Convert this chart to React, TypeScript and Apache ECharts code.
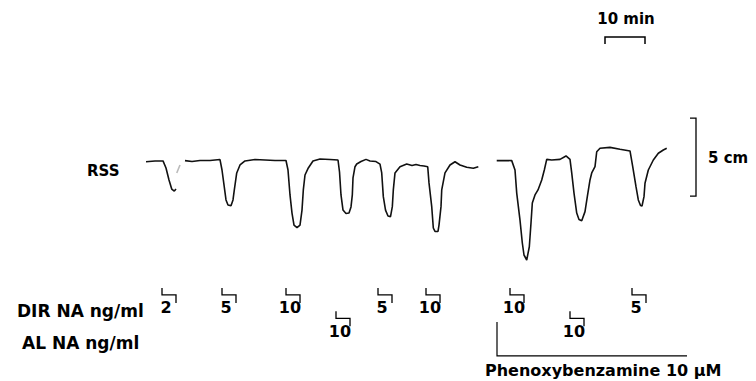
import React, { useEffect, useRef } from "react";
import * as echarts from "echarts";

// Time in minutes (from start of trace), tension deflection in cm (0 = resting baseline)
const TRACE_1: [number, number][] = [
  [0, -0.11], [2.25, -0.06], [4.25, -0.06], [5, -0.51], [5.75, -1.28], [6.43, -1.86], [7.08, -1.99], [7.5, -1.86],
];
const TRACE_1_FAINT: [number, number][] = [
  [7.68, -0.83], [8.5, -0.32],
];
const TRACE_2: [number, number][] = [
  [9.75, -0.04], [11.5, -0.1], [13.5, -0.03], [16, -0.03], [18.5, 0.03], [19, -0.64], [19.5, -1.6], [20, -2.56],
  [20.5, -2.88], [21.25, -2.93], [21.75, -2.56], [22.08, -1.92], [22.68, -0.83], [23.5, -0.32], [24.75, -0.06],
  [27.25, 0.03], [29.75, 0], [32.25, -0.03], [35, -0.03], [35.5, -0.64], [36, -2.24], [36.5, -3.4], [37, -4.17],
  [37.75, -4.33], [38.5, -4.17], [39, -3.21], [39.33, -1.92], [39.75, -0.96], [40.58, -0.51], [41.75, -0.06],
  [43.5, 0.06], [46, 0.03], [48, 0], [48.38, -0.77], [48.75, -2.24], [49.25, -3.21], [50, -3.43], [50.75, -3.4],
  [51.25, -3.01], [51.58, -2.24], [51.75, -1.15], [52.25, -0.43], [52.68, -0.26], [53.75, -0.1], [55, 0.04],
  [56, -0.06], [57.5, -0.1], [58.5, -0.26], [58.93, -0.83], [59.33, -2.35], [59.88, -3.21], [60.5, -3.59],
  [61.13, -3.63], [61.58, -2.99], [61.83, -1.92], [62.25, -0.83], [63.5, -0.43], [65.18, -0.26], [66.5, -0.35],
  [67.5, -0.29], [68.5, -0.35], [69.5, -0.38], [70.43, -0.43], [70.75, -1.47], [71.43, -2.99], [71.83, -4.36],
  [72.25, -4.58], [73, -4.58], [73.25, -4.17], [73.75, -2.99], [73.93, -1.92], [74.75, -0.83], [76, -0.32],
  [77.25, -0.11], [78.5, -0.32], [80.18, -0.47], [81.83, -0.53], [83.08, -0.43],
];
const TRACE_3: [number, number][] = [
  [87.68, -0.04], [89.75, -0.03], [91.43, -0.04], [92.25, -0.64], [92.68, -2.12], [93.5, -3.85], [94.08, -5.32],
  [94.5, -6.09], [95.18, -6.41], [95.83, -5.56], [96.25, -4.04], [96.58, -2.76], [97.25, -2.24], [98, -1.92],
  [98.93, -1.28], [99.58, -0.64], [100.18, 0.04], [101.43, 0], [103.5, 0.04], [105, 0.26], [106, 0.04],
  [106.43, -0.83], [107, -2.12], [107.68, -3.4], [108.25, -3.81], [108.93, -3.89], [109.75, -3.31], [110.33, -2.35],
  [111, -1.28], [111.43, -0.83], [112.25, -0.43], [112.68, 0.53], [113.5, 0.75], [116, 0.81], [118.5, 0.69],
  [121, 0.58], [121.68, -0.43], [122.5, -1.71], [123.08, -2.56], [123.63, -2.92], [124, -2.95], [124.5, -2.35],
  [124.75, -1.49], [125.58, -0.64], [126.83, 0], [128.08, 0.43], [129.33, 0.64], [130.18, 0.75],
];

// Drug applications: [start min, end min, dose ng/ml]
const DIR_NA: [number, number, number][] = [
  [4, 7.5, 2], [19, 22.5, 5], [35, 38.5, 10], [58, 61.5, 5], [70, 73.5, 10], [91, 94.5, 10], [121.5, 125, 5],
];
const AL_NA: [number, number, number][] = [
  [47.5, 51, 10], [106, 109.5, 10],
];
const PHENOXY: [number, number] = [87.75, 135.25];
const PHENOXY_LABEL = "Phenoxybenzamine 10 µM";

// Calibration bars
const TIME_BAR: [number, number, number] = [114.75, 124.75, 7.88]; // 10 min
const CM_BAR: [number, number, number] = [137.5, 2.69, -2.31]; // 5 cm

const ROW_Y = [-8.2, -9.7];
const PHENOXY_Y = [-10.38, -12.56];

const FONT = '"DejaVu Sans", sans-serif';

export default function App() {
  const ref = useRef<HTMLDivElement>(null);
  useEffect(() => {
    if (!ref.current) return;
    const chart = echarts.init(ref.current, null, { renderer: "svg" });
    const markerData = [
      ...DIR_NA.map((d) => [d[0], d[1], ROW_Y[0], d[2]]),
      ...AL_NA.map((d) => [d[0], d[1], ROW_Y[1], d[2]]),
    ];
    const traceSeries = (data: [number, number][], color = "#111") => ({
      type: "line",
      data,
      symbol: "none",
      silent: true,
      lineStyle: { color, width: 1.6 },
      z: 3,
    });
    chart.setOption({
      animation: false,
      backgroundColor: "#fff",
      grid: { left: 0, top: 4, width: 756, height: 374.4 },
      xAxis: { type: "value", min: -36.5, max: 152.5, show: false },
      yAxis: { type: "value", min: -14, max: 10, show: false },
      graphic: [
        { type: "text", x: 87, y: 171, style: { text: "RSS", font: `bold 15px ${FONT}`, fill: "#000", verticalAlign: "middle" } },
        { type: "text", x: 17, y: 311, style: { text: "DIR NA ng/ml", font: `bold 17px ${FONT}`, fill: "#000", verticalAlign: "middle" } },
        { type: "text", x: 22, y: 343, style: { text: "AL NA ng/ml", font: `bold 17px ${FONT}`, fill: "#000", verticalAlign: "middle" } },
      ],
      series: [
        traceSeries(TRACE_1),
        traceSeries(TRACE_1_FAINT, "#bbb"),
        traceSeries(TRACE_2),
        traceSeries(TRACE_3),
        {
          type: "custom",
          clip: false,
          silent: true,
          data: markerData,
          encode: { x: [0, 1], y: 2 },
          renderItem: (params: any, api: any) => {
            const s = api.coord([api.value(0), api.value(2)]);
            const e = api.coord([api.value(1), api.value(2)]);
            const L = s[0], R = e[0], T = s[1];
            return {
              type: "group",
              children: [
                { type: "polyline", shape: { points: [[L, T], [L, T + 7], [R, T + 7], [R, T + 15]] }, style: { stroke: "#000", lineWidth: 1.3, fill: null } },
                { type: "text", style: { text: String(api.value(3)), x: (L + R) / 2 - 3, y: T + 20, align: "center", verticalAlign: "middle", font: `bold 16px ${FONT}`, fill: "#000" } },
              ],
            };
          },
        },
        {
          type: "custom",
          clip: false,
          silent: true,
          data: [[PHENOXY[0], PHENOXY[1], PHENOXY_Y[0], PHENOXY_Y[1]]],
          encode: { x: [0, 1], y: [2, 3] },
          renderItem: (params: any, api: any) => {
            const a = api.coord([api.value(0), api.value(2)]);
            const b = api.coord([api.value(1), api.value(3)]);
            return {
              type: "group",
              children: [
                { type: "polyline", shape: { points: [[a[0], a[1]], [a[0], b[1]], [b[0], b[1]]] }, style: { stroke: "#000", lineWidth: 1.2, fill: null } },
                { type: "text", style: { text: PHENOXY_LABEL, x: a[0] - 12, y: b[1] + 15, align: "left", verticalAlign: "middle", font: `bold 16px ${FONT}`, fill: "#000" } },
              ],
            };
          },
        },
        {
          type: "custom",
          clip: false,
          silent: true,
          data: [TIME_BAR],
          encode: { x: [0, 1], y: 2 },
          renderItem: (params: any, api: any) => {
            const a = api.coord([api.value(0), api.value(2)]);
            const b = api.coord([api.value(1), api.value(2)]);
            return {
              type: "group",
              children: [
                { type: "polyline", shape: { points: [[a[0], a[1] + 7], [a[0], a[1]], [b[0], b[1]], [b[0], b[1] + 7]] }, style: { stroke: "#000", lineWidth: 1.5, fill: null } },
                { type: "text", style: { text: "10 min", x: (a[0] + b[0]) / 2 + 1, y: a[1] - 18, align: "center", verticalAlign: "middle", font: `bold 15px ${FONT}`, fill: "#000" } },
              ],
            };
          },
        },
        {
          type: "custom",
          clip: false,
          silent: true,
          data: [CM_BAR],
          encode: { x: 0, y: [1, 2] },
          renderItem: (params: any, api: any) => {
            const a = api.coord([api.value(0), api.value(1)]);
            const b = api.coord([api.value(0), api.value(2)]);
            return {
              type: "group",
              children: [
                { type: "polyline", shape: { points: [[a[0] - 6, a[1]], [a[0], a[1]], [b[0], b[1]], [b[0] - 6, b[1]]] }, style: { stroke: "#000", lineWidth: 1.3, fill: null } },
                { type: "text", style: { text: "5 cm", x: a[0] + 12, y: (a[1] + b[1]) / 2 + 1, align: "left", verticalAlign: "middle", font: `bold 15px ${FONT}`, fill: "#000" } },
              ],
            };
          },
        },
      ],
    });
    return () => chart.dispose();
  }, []);
  return <div ref={ref} style={{ position: "absolute", left: 0, top: 0, width: 756, height: 381 }} />;
}
